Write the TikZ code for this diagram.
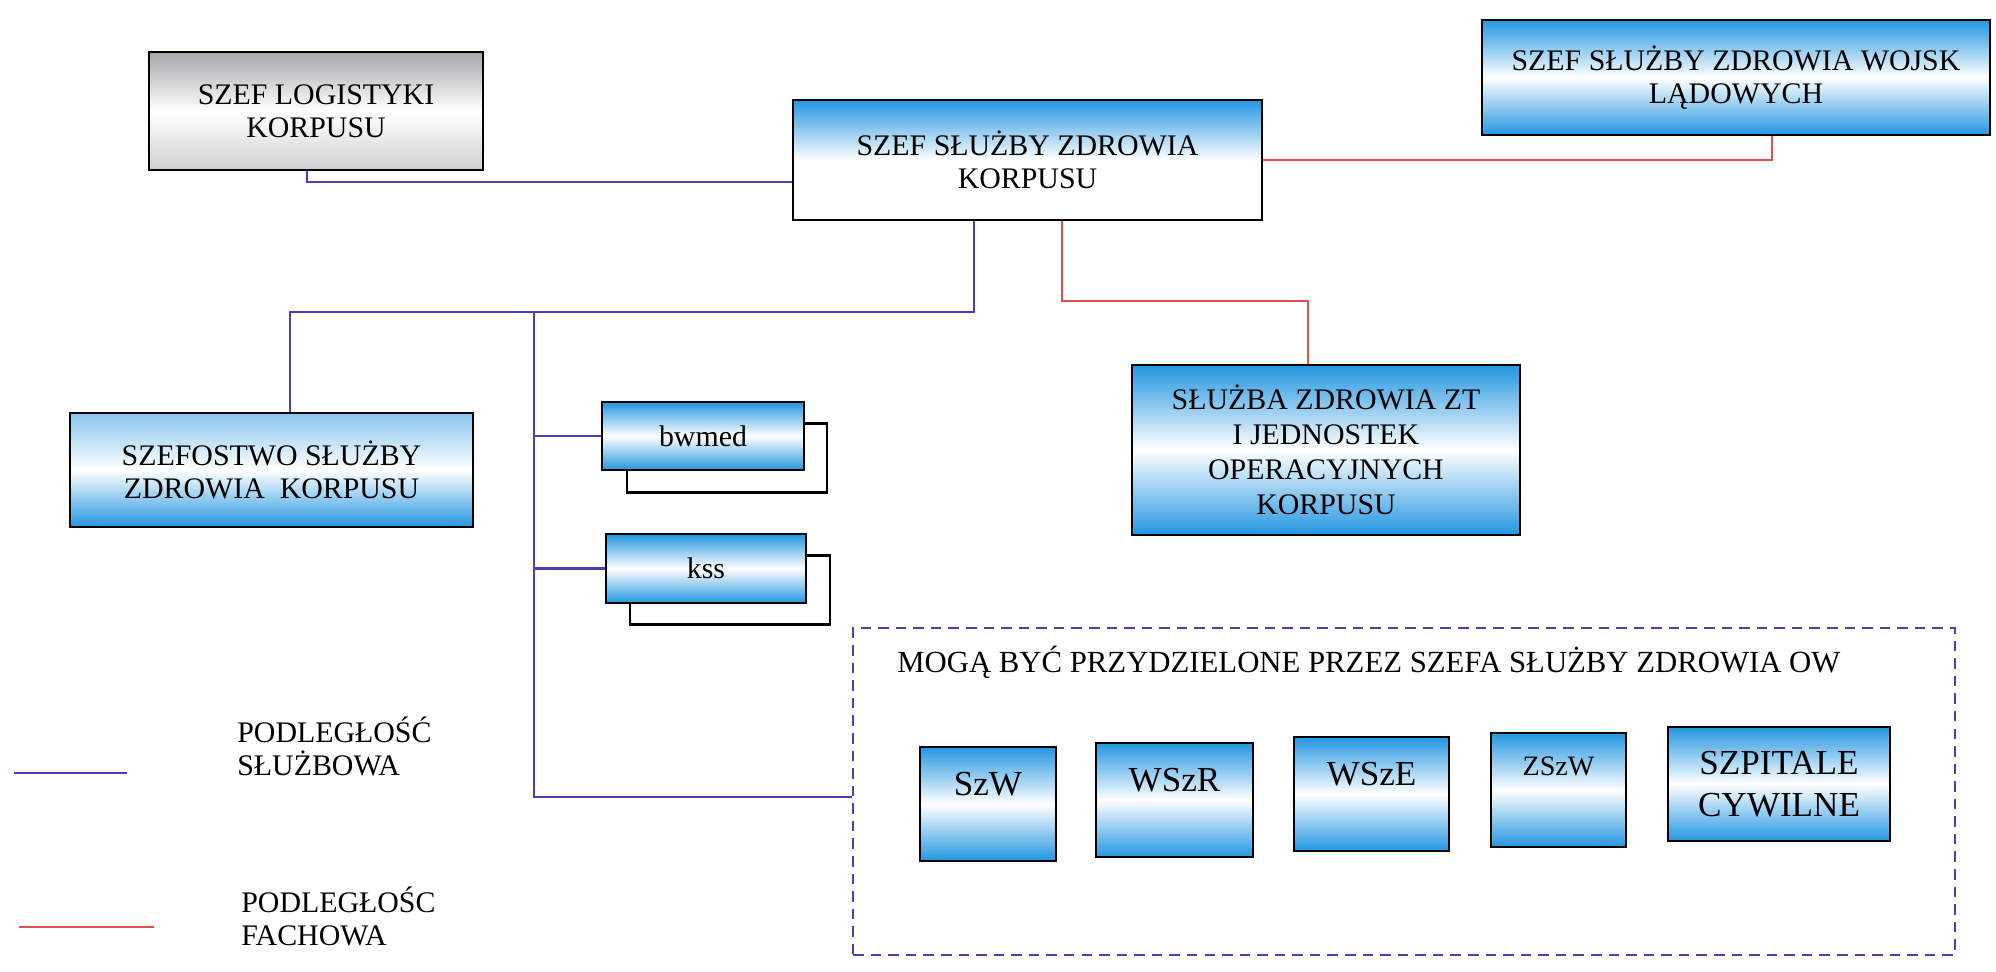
\documentclass[tikz,border=0pt]{standalone}
\usepackage{fontspec}
\setmainfont{Liberation Serif}
\usetikzlibrary{positioning,calc}
\definecolor{korpSky}{RGB}{35,150,225}
\definecolor{korpGray}{RGB}{150,150,155}
\definecolor{lineBlue}{RGB}{80,60,180}
\definecolor{lineRed}{RGB}{225,80,80}
\newcommand{\boxfont}{\fontsize{17}{19}\selectfont}
\newcommand{\unitfont}{\fontsize{20}{24}\selectfont}

\begin{document}
\begin{tikzpicture}[x=0.02cm,y=-0.02cm,
  orgbox/.style={draw=black,line width=1.5pt,inner sep=2pt,align=center,font=\boxfont,
                 top color=korpSky,bottom color=korpSky,middle color=white},
  unitbox/.style={orgbox,font=\unitfont,minimum height=2.28cm},
  unittop/.style={text height=0.47cm,text depth=0.8cm},
  shadowbox/.style={draw=black,line width=1.2pt,fill=white,minimum width=4cm,minimum height=1.38cm},
  sluzb/.style={draw=lineBlue,line width=1.3pt},
  fach/.style={draw=lineRed,line width=1.3pt}]
\useasboundingbox (0,0) rectangle (1996,971);

% top row
\node[orgbox,top color=korpGray!85,bottom color=korpGray!45,middle color=white,
      minimum width=6.68cm,minimum height=2.36cm] (log) at (316,111) {SZEF LOGISTYKI\\KORPUSU};
\node[orgbox,top color=korpSky,bottom color=white,middle color=white,
      minimum width=9.38cm,minimum height=2.4cm] (cen) at (1027.5,160) {SZEF SŁUŻBY ZDROWIA\\KORPUSU};
\node[orgbox,minimum width=10.16cm,minimum height=2.3cm] (lad) at (1736,77.5)
  {SZEF SŁUŻBY ZDROWIA WOJSK\\LĄDOWYCH};

% second row
\node[orgbox,top color=korpSky!55,bottom color=korpSky,middle color=white,
      minimum width=8.06cm,minimum height=2.28cm] (szef) at (271.5,470) {SZEFOSTWO SŁUŻBY\\ZDROWIA\ \ KORPUSU};
\node[shadowbox] (bwmedB) at (727,458) {};
\node[orgbox,minimum width=4.04cm,minimum height=1.36cm] (bwmed) at (703,436) {bwmed};
\node[shadowbox] (kssB) at (730,590) {};
\node[orgbox,minimum width=4cm,minimum height=1.38cm] (kss) at (706,568.5) {kss};
\node[orgbox,font=\fontsize{17}{20}\selectfont,minimum width=7.76cm,minimum height=3.4cm] (zt) at (1326,450)
  {SŁUŻBA ZDROWIA ZT\\I JEDNOSTEK\\OPERACYJNYCH\\KORPUSU};

% assigned units
\node[draw=lineBlue,line width=1.5pt,dash pattern=on 6pt off 4pt,
      minimum width=22.04cm,minimum height=6.54cm] (frame) at (1404,791.5) {};
\node[font=\fontsize{17.5}{20}\selectfont,anchor=base west,inner sep=0] (frameT) at (897,672)
  {MOGĄ BYĆ PRZYDZIELONE PRZEZ SZEFA SŁUŻBY ZDROWIA OW};
\foreach \nm/\cx/\cy/\w/\txt in {szw/988/804/2.72/SzW, wszr/1174.5/800/3.14/WSzR, wsze/1371.5/794/3.1/WSzE}
  \node[unitbox,unittop,minimum width=\w cm] (\nm) at (\cx,\cy) {\txt};
\node[unitbox,font=\fontsize{16}{19}\selectfont,text height=0.37cm,text depth=0.97cm,
      minimum width=2.7cm] (zszw) at (1558.5,790) {ZSzW};
\node[unitbox,minimum width=4.44cm] (szp) at (1779,784) {SZPITALE\\CYWILNE};

% connectors
\coordinate (busTop) at (534,312);
\draw[sluzb] ([xshift=-0.18cm]log.south) |- ([yshift=-0.44cm]cen.west);
\draw[fach] ([xshift=0.72cm]lad.south) |- (cen.east);
\draw[sluzb] ([xshift=-1.07cm]cen.south) |- (busTop) -| ([xshift=0.37cm]szef.north);
\draw[sluzb] (busTop) |- ([yshift=-0.11cm]frame.west);
\draw[sluzb] (busTop |- bwmed.west) -- (bwmed.west);
\draw[sluzb] (busTop |- kss.west) -- (kss.west);
\draw[fach] ([xshift=0.69cm]cen.south) -- ++(0,80) -| ([xshift=-0.36cm]zt.north);

% legend
\coordinate (legSa) at (14,773);
\coordinate (legSb) at (127,773);
\coordinate (legFa) at (19,927);
\coordinate (legFb) at (154,927);
\draw[sluzb] (legSa) -- (legSb);
\draw[fach] (legFa) -- (legFb);
\node[font=\boxfont,align=left,anchor=north west,inner sep=0] (legS) at (237,716) {PODLEGŁOŚĆ\\SŁUŻBOWA};
\node[font=\boxfont,align=left,anchor=north west,inner sep=0] (legF) at (241,886) {PODLEGŁOŚC\\FACHOWA};
\end{tikzpicture}
\end{document}
